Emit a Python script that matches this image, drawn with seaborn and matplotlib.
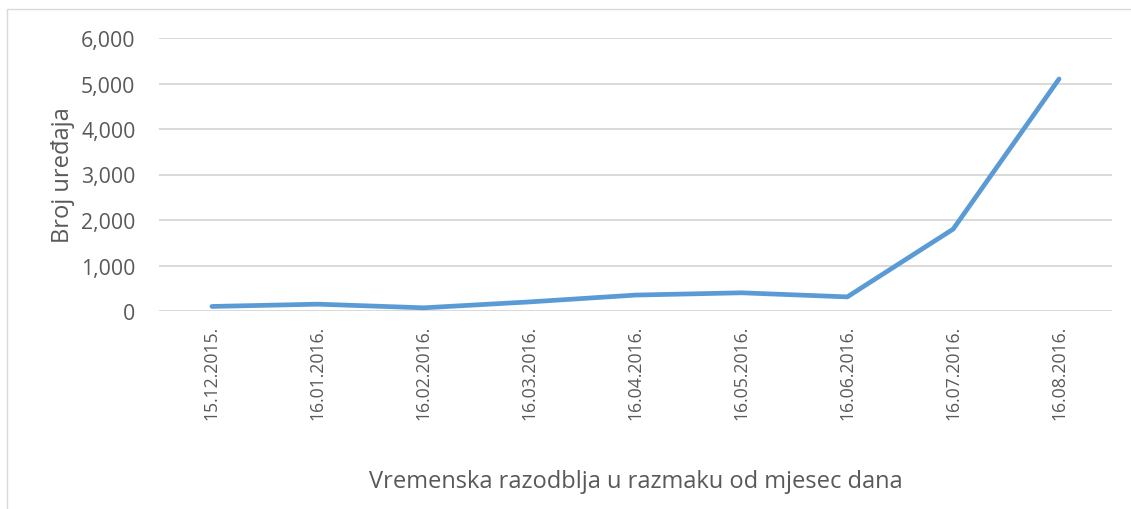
import matplotlib
matplotlib.use("Agg")
import matplotlib.pyplot as plt
import seaborn as sns
import pandas as pd
from matplotlib.ticker import FuncFormatter
from matplotlib.patches import Rectangle

dates = ["15.12.2015.", "16.01.2016.", "16.02.2016.", "16.03.2016.", "16.04.2016.",
         "16.05.2016.", "16.06.2016.", "16.07.2016.", "16.08.2016."]
devices = [100, 150, 70, 200, 350, 400, 310, 1800, 5100]
y_ticks = [0, 1000, 2000, 3000, 4000, 5000, 6000]

sns.set_theme(style="white")
plt.rcParams['font.family'] = ['Open Sans', 'DejaVu Sans']

df = pd.DataFrame({"pos": range(len(dates)), "val": devices})

fig = plt.figure(figsize=(11.31, 5.10), dpi=100)
ax = fig.add_axes([159/1131, 1-312/510, (1112-159)/1131, (312-39)/510])

for t in y_ticks:
    ax.axhline(t, color="#d9d9d9", lw=1.4, zorder=0)

sns.lineplot(data=df, x="pos", y="val", ax=ax, color="#5b9bd5", lw=3.4,
             solid_capstyle="round", solid_joinstyle="round")

ax.set_xlim(-0.5, len(dates) - 0.5)
ax.set_ylim(0, 6000)
ax.set_yticks(y_ticks)
ax.yaxis.set_major_formatter(FuncFormatter(lambda v, p: f"{int(v):,}"))
ax.set_xticks(range(len(dates)))
ax.set_xticklabels(dates, rotation=90)
for s in ax.spines.values():
    s.set_visible(False)
ax.tick_params(axis="both", length=0, colors="#595959")
ax.tick_params(axis="y", labelsize=15.3, pad=17)
ax.tick_params(axis="x", labelsize=12.7, pad=10)
ax.set_xlabel("Vremenska razodblja u razmaku od mjesec dana", fontsize=17,
              color="#595959", labelpad=36)
ax.set_ylabel("Broj uređaja", fontsize=17, color="#595959", labelpad=4)

fig.patches.append(Rectangle((7/1131, -0.1), 1.2, 1 - 10/510 + 0.1, transform=fig.transFigure,
                             fill=False, edgecolor="#d9d9d9", lw=1.0))

fig.savefig("out.png", dpi=100)
